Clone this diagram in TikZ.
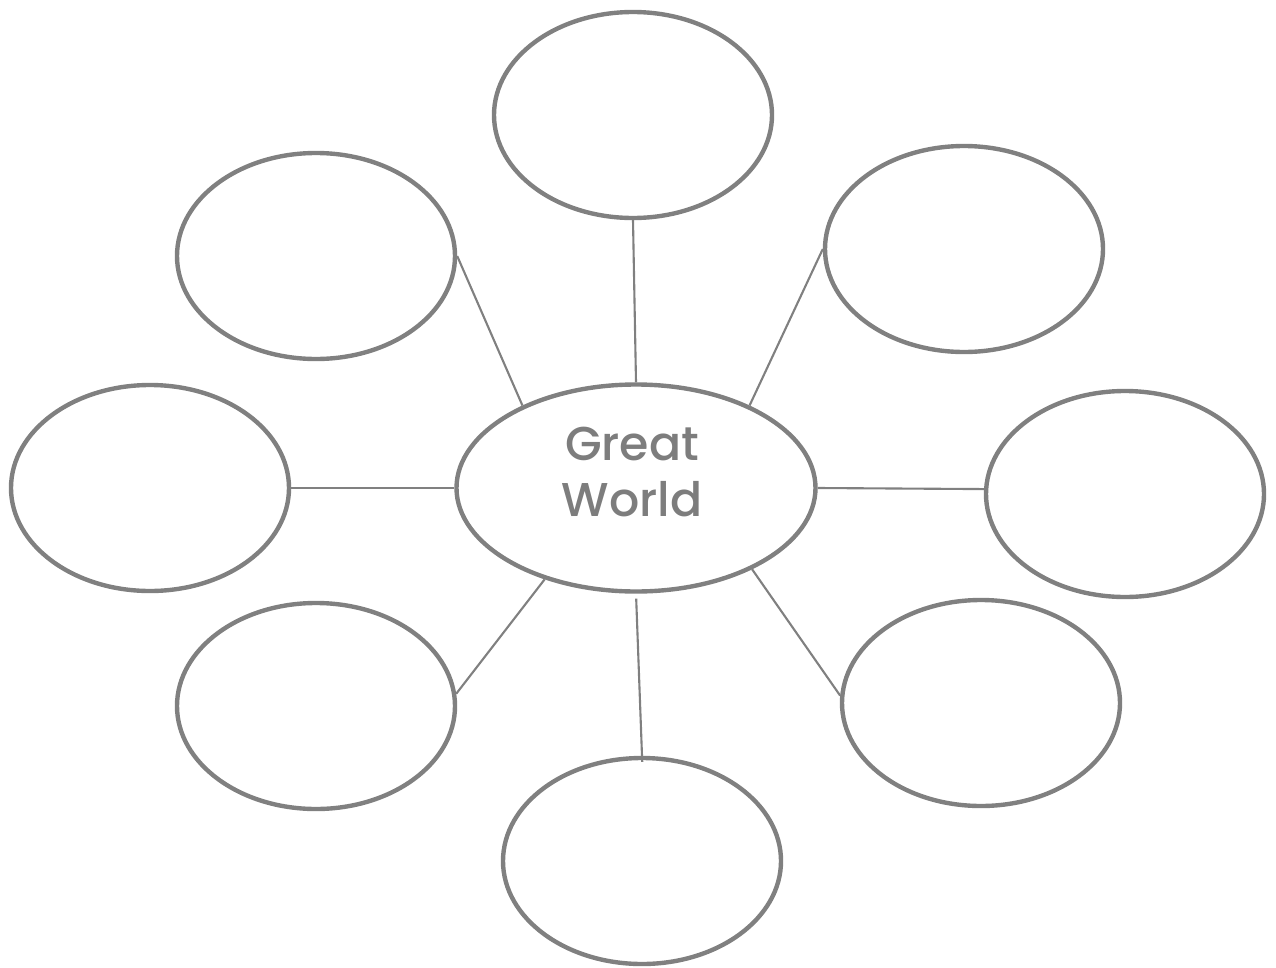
\documentclass[tikz,border=0pt]{standalone}
\usepackage{fontspec}
\setmainfont{Poppins}
\newfontfamily\hubfont{Poppins Medium}
\usetikzlibrary{shapes.geometric}
\usepackage{xcolor}
\definecolor{ringgray}{RGB}{128,128,128}
\definecolor{textgray}{RGB}{125,125,125}

\begin{document}
\begin{tikzpicture}
\tikzset{
  EL/.style={draw=ringgray,ellipse,line width=2.5pt,inner sep=0pt,minimum width=5.56cm,minimum height=4.12cm},
  HUB/.style={EL,minimum width=7.18cm,minimum height=4.14cm},
  FL/.style={ringgray,line width=1.2pt},
  tx/.style={font=\hubfont\fontsize{27}{32}\selectfont,text=textgray,align=center},
}
\useasboundingbox (0,0) rectangle (25.52,-19.34);

\node[HUB](hub) at (12.72,-9.76){};
\node[tx](ttl) at (12.64,-9.44){Great\\World};

\node[EL](top) at (12.66,-2.30){};
\node[EL](ul)  at ( 6.32,-5.12){};
\node[EL](ur)  at (19.28,-4.98){};
\node[EL](lft) at ( 3.00,-9.76){};
\node[EL](rgt) at (22.50,-9.88){};
\node[EL](ll)  at ( 6.32,-14.12){};
\node[EL](lr)  at (19.62,-14.06){};
\node[EL](bot) at (12.84,-17.22){};

\draw[FL](top.south)--(hub.north);
\draw[FL](ul.east)--(hub.144);
\draw[FL](ur.west)--(hub.36);
\draw[FL](lft.east)--(hub.west);
\draw[FL](hub.east)--(rgt.178);
\draw[FL](ll.5)--(hub.225);
\draw[FL](hub.325)--(lr.177);
\draw[FL,shorten <=0.1cm,shorten >=-0.12cm](hub.south)--(bot.north);

\end{tikzpicture}
\end{document}
